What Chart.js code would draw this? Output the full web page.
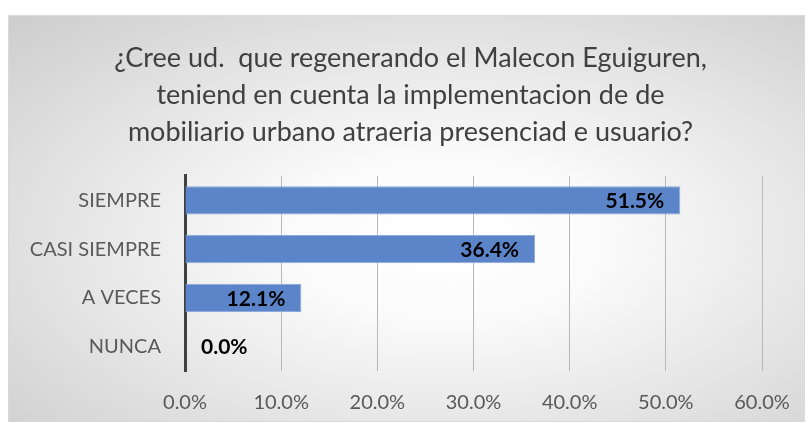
<!DOCTYPE html>
<html>
<head>
<meta charset="utf-8">
<script src="https://cdn.jsdelivr.net/npm/chart.js@4.4.0/dist/chart.umd.min.js"></script>
<style>
    body { margin: 0; background: #fff; }
    #box {
        position: absolute; left: 8px; top: 15px; width: 795px; height: 405px;
        background: radial-gradient(ellipse at 55% 55%, #ffffff 0%, #fbfbfb 25%, #cdcdcd 100%);
        border: 1px solid #d9d9d9;
    }
</style>
</head>
<body>
<div id="box"><canvas id="barChart" width="795" height="405"></canvas></div>
<script>
// chart data
const categories = ['SIEMPRE', 'CASI SIEMPRE', 'A VECES', 'NUNCA'];
const percentages = [51.5, 36.4, 12.1, 0.0];
const tickValues = [0, 10, 20, 30, 40, 50, 60];
const titleLines = [
    '¿Cree ud.  que regenerando el Malecon Eguiguren,',
    'teniend en cuenta la implementacion de de',
    'mobiliario urbano atraeria presenciad e usuario?'
];

const FONT = 'Lato, "Open Sans", sans-serif';

// value labels at the end of each bar
const barLabels = {
    id: 'barLabels',
    afterDatasetsDraw(chart) {
        const ctx = chart.ctx;
        const meta = chart.getDatasetMeta(0);
        ctx.save();
        ctx.font = 'bold 21px ' + FONT;
        ctx.fillStyle = '#000';
        ctx.textBaseline = 'middle';
        meta.data.forEach((bar, i) => {
            const txt = percentages[i].toFixed(1) + '%';
            if (percentages[i] === 0) {
                ctx.textAlign = 'left';
                ctx.fillText(txt, bar.x + 16, bar.y + 1);
            } else {
                ctx.textAlign = 'right';
                ctx.fillText(txt, bar.x - 16, bar.y + 1);
            }
        });
        ctx.restore();
    }
};

const ctx = document.getElementById('barChart').getContext('2d');
new Chart(ctx, {
    type: 'bar',
    data: {
        labels: categories,
        datasets: [{
            data: percentages,
            backgroundColor: '#5b84c9',
            borderColor: '#8eaadc',
            borderWidth: 1,
            barPercentage: 0.58,
            categoryPercentage: 1
        }]
    },
    options: {
        indexAxis: 'y',
        responsive: false,
        animation: false,
        layout: { padding: { top: 24, right: 12, bottom: 0, left: 20 } },
        plugins: {
            legend: { display: false },
            tooltip: { enabled: false },
            title: {
                display: true,
                text: titleLines,
                color: '#404040',
                font: { family: FONT, size: 27, weight: 'normal', lineHeight: 1.37 },
                padding: { top: 0, bottom: 25 }
            }
        },
        scales: {
            x: {
                min: 0,
                max: 60,
                afterBuildTicks: (axis) => { axis.ticks = tickValues.map(v => ({ value: v })); },
                afterFit: (s) => { s.height = 50; s.paddingRight = 42; s.paddingLeft = 0; },
                ticks: {
                    color: '#595959',
                    font: { family: FONT, size: 20 },
                    padding: 20,
                    maxRotation: 0,
                    callback: (v) => Number(v).toFixed(1) + '%'
                },
                grid: { color: '#b8b8b8', lineWidth: 1, drawTicks: false },
                border: { display: false }
            },
            y: {
                afterFit: (s) => { s.width = 156; },
                ticks: {
                    color: '#595959',
                    font: { family: FONT, size: 20 },
                    padding: 24
                },
                grid: { display: false, drawTicks: false },
                border: { display: true, color: '#404040', width: 3 }
            }
        }
    },
    plugins: [barLabels]
});
</script>
</body>
</html>
